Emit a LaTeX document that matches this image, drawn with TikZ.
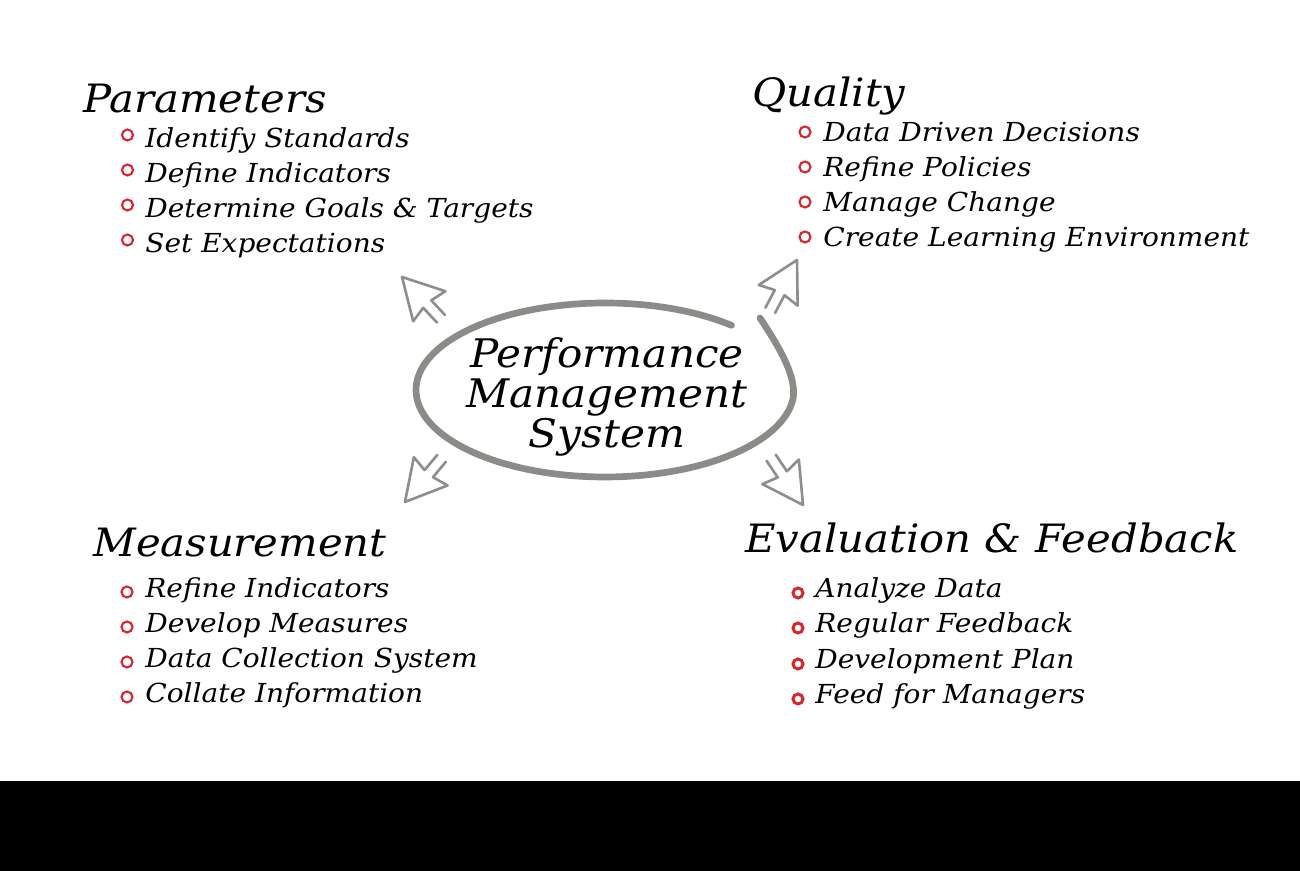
\documentclass[tikz,border=0pt]{standalone}
\usepackage{fontspec}
\setmainfont[FakeStretch=1.07]{DejaVu Serif}
\usepackage{xcolor}
\usepackage{tikz}
\usetikzlibrary{calc}

\definecolor{ringgray}{HTML}{8A8C87}
\definecolor{arrowgray}{HTML}{8E8E8E}
\definecolor{dotred}{HTML}{D7262E}

\tikzset{
	heading/.style = {anchor=base west, inner sep=0pt, font=\fontsize{22.2}{26}\selectfont\itshape},
	entry/.style = {anchor=base west, inner sep=0pt, font=\fontsize{14.9}{18}\selectfont\itshape},
	dot/.style = {draw=dotred, line width=1.2pt},
	ring/.style = {draw=ringgray, line width=3.8pt, line cap=round, line join=round},
	pointer/.pic = {
		\draw [arrowgray, line width=1.5pt, line join=round, line cap=round]
			(-1.14,0.11) -- (-0.74,0.11) -- (-0.8,0.44) -- (0,0)
			-- (-0.8,-0.44) -- (-0.74,-0.11) -- (-1.14,-0.11);
	}
}

\begin{document}
\begin{tikzpicture}
			\useasboundingbox (0,0) rectangle (26,17.42);
			\fill [black] (0,0) rectangle (26,1.8);

			% centre
			\draw [ring] (12.1,9.62) ++(48:3.78cm and 1.74cm) arc [start angle=48, end angle=355, x radius=3.78cm, y radius=1.74cm]
				.. controls (15.93,9.95) and (15.5,10.6) .. (15.2,11.06);
			\node (pms) [align=center, inner sep=0pt, font=\fontsize{22.4}{22.8}\selectfont\itshape] at (12.14,9.48) {Performance\\Management\\System};

			\pic [rotate=133] at (8.04,11.88) {pointer};
			\pic [rotate=62] at (15.94,12.22) {pointer};
			\pic [rotate=230] at (8.1,7.38) {pointer};
			\pic [rotate=-56] at (16.06,7.32) {pointer};

			% Parameters
			\node (par) [heading] at (1.66,15.16) {Parameters};
			\node (par1) [entry] at (2.9,14.46) {Identify Standards};
			\node (par2) [entry] at (2.9,13.76) {Define Indicators};
			\node (par3) [entry] at (2.9,13.06) {Determine Goals \& Targets};
			\node (par4) [entry] at (2.9,12.36) {Set Expectations};
			\draw [dot] ($(par1.base west)+(-0.35,0.26)$) circle (0.11);
			\draw [dot] ($(par2.base west)+(-0.35,0.26)$) circle (0.11);
			\draw [dot] ($(par3.base west)+(-0.35,0.26)$) circle (0.11);
			\draw [dot] ($(par4.base west)+(-0.35,0.26)$) circle (0.11);

			% Quality
			\node (qual) [heading] at (15.04,15.28) {Quality};
			\node (qual1) [entry] at (16.46,14.58) {Data Driven Decisions};
			\node (qual2) [entry] at (16.46,13.88) {Refine Policies};
			\node (qual3) [entry] at (16.46,13.18) {Manage Change};
			\node (qual4) [entry] at (16.46,12.48) {Create Learning Environment};
			\draw [dot] ($(qual1.base west)+(-0.36,0.2)$) circle (0.11);
			\draw [dot] ($(qual2.base west)+(-0.36,0.2)$) circle (0.11);
			\draw [dot] ($(qual3.base west)+(-0.36,0.2)$) circle (0.11);
			\draw [dot] ($(qual4.base west)+(-0.36,0.2)$) circle (0.11);

			% Measurement
			\node (meas) [heading] at (1.86,6.28) {Measurement};
			\node (meas1) [entry] at (2.9,5.46) {Refine Indicators};
			\node (meas2) [entry] at (2.9,4.76) {Develop Measures};
			\node (meas3) [entry] at (2.9,4.06) {Data Collection System};
			\node (meas4) [entry] at (2.9,3.36) {Collate Information};
			\draw [dot] ($(meas1.base west)+(-0.36,0.12)$) circle (0.11);
			\draw [dot] ($(meas2.base west)+(-0.36,0.12)$) circle (0.11);
			\draw [dot] ($(meas3.base west)+(-0.36,0.12)$) circle (0.11);
			\draw [dot] ($(meas4.base west)+(-0.36,0.12)$) circle (0.11);

			% Evaluation & Feedback
			\node (eval) [heading] at (14.9,6.36) {Evaluation \& Feedback};
			\node (eval1) [entry] at (16.3,5.46) {Analyze Data};
			\node (eval2) [entry] at (16.3,4.76) {Regular Feedback};
			\node (eval3) [entry] at (16.3,4.04) {Development Plan};
			\node (eval4) [entry] at (16.3,3.34) {Feed for Managers};
			\draw [dot, line width=1.7pt] ($(eval1.base west)+(-0.34,0.1)$) circle (0.1);
			\draw [dot, line width=1.7pt] ($(eval2.base west)+(-0.34,0.1)$) circle (0.1);
			\draw [dot, line width=1.7pt] ($(eval3.base west)+(-0.34,0.1)$) circle (0.1);
			\draw [dot, line width=1.7pt] ($(eval4.base west)+(-0.34,0.1)$) circle (0.1);
		\end{tikzpicture}
\end{document}
